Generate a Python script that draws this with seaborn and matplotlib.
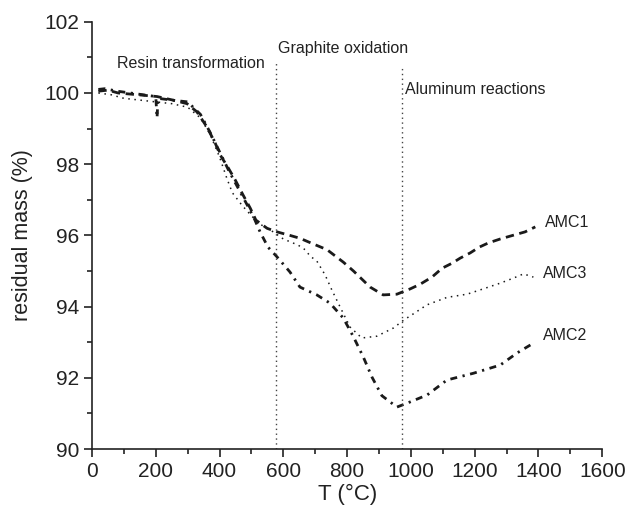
import matplotlib
matplotlib.use("Agg")
import matplotlib.pyplot as plt
import seaborn as sns
import pandas as pd
from matplotlib.ticker import MultipleLocator

# TGA curves
amc1_t = [20, 50, 82, 119, 157, 204, 254, 298, 329, 360, 386, 402, 427, 449, 474, 496,
          514, 549, 580, 621, 652, 694, 737, 788, 820, 872, 913, 956, 998, 1029, 1066,
          1098, 1129, 1154, 1186, 1214, 1243, 1280, 1311, 1358, 1390]
amc1_m = [100.05, 100.08, 100.0, 99.97, 99.94, 99.9, 99.8, 99.7, 99.47, 99.05, 98.6,
          98.26, 97.9, 97.56, 97.13, 96.77, 96.43, 96.2, 96.1, 96.0, 95.92, 95.76, 95.6,
          95.25, 95.0, 94.55, 94.33, 94.35, 94.5, 94.63, 94.83, 95.08, 95.22, 95.36, 95.51,
          95.67, 95.79, 95.9, 95.98, 96.1, 96.24]

amc2_t = [20, 40, 80, 120, 160, 200, 204, 207, 250, 300, 340, 370, 400, 430, 460, 490,
          510, 527, 552, 580, 621, 652, 705, 746, 788, 820, 851, 878, 909, 956, 988, 1051,
          1113, 1196, 1280, 1333, 1385]
amc2_m = [100.1, 100.12, 100.05, 100.0, 99.95, 99.9, 99.3, 99.85, 99.8, 99.75, 99.4, 98.9,
          98.35, 97.8, 97.3, 96.8, 96.45, 96.1, 95.67, 95.4, 94.97, 94.55, 94.33, 94.1,
          93.68, 93.15, 92.58, 92.02, 91.5, 91.18, 91.29, 91.52, 91.94, 92.13, 92.36, 92.7,
          92.98]

amc3_t = [20, 60, 100, 150, 200, 250, 300, 340, 370, 400, 423, 440, 470, 500, 530, 560,
          600, 646, 668, 684, 705, 731, 752, 778, 809, 846, 893, 945, 977, 1008, 1050, 1113,
          1176, 1227, 1280, 1321, 1353, 1384]
amc3_m = [100.0, 99.95, 99.85, 99.8, 99.75, 99.7, 99.6, 99.3, 98.85, 98.2, 97.6, 97.2,
          96.85, 96.55, 96.3, 96.15, 95.9, 95.73, 95.6, 95.42, 95.28, 94.89, 94.47, 93.99,
          93.43, 93.12, 93.17, 93.4, 93.62, 93.8, 94.05, 94.26, 94.35, 94.5, 94.66, 94.8,
          94.92, 94.83]

regions = ["Resin transformation", "Graphite oxidation", "Aluminum reactions"]
region_bounds = [577, 973]

sns.set_style("ticks")
plt.rcParams["font.family"] = ["Liberation Sans", "DejaVu Sans"]

fig = plt.figure(figsize=(6.3, 5.18), dpi=100)
ax = fig.add_axes([0.146, 0.133, 0.81, 0.825])

ink = "#1a1a1a"
txt = "#222222"
series = [
    ("AMC1", amc1_t, amc1_m, 2.0, (3, 2)),
    ("AMC2", amc2_t, amc2_m, 2.0, (2.5, 2, 0.8, 2)),
    ("AMC3", amc3_t, amc3_m, 1.1, (1, 3)),
]
for name, t, m, lw, dash in series:
    df = pd.DataFrame({"T": t, "mass": m})
    sns.lineplot(data=df, x="T", y="mass", ax=ax, color=ink, lw=lw, dashes=False)
    ax.lines[-1].set_dashes(dash)

# region boundaries
ax.plot([region_bounds[0]] * 2, [90, 100.87], color="#444444", lw=1, dashes=(1, 2.5))
ax.plot([region_bounds[1]] * 2, [90, 100.73], color="#444444", lw=1, dashes=(1, 2.5))

ax.text(78, 100.84, regions[0], fontsize=11.5, color=txt, va="center")
ax.text(582, 101.26, regions[1], fontsize=11.5, color=txt, va="center")
ax.text(982, 100.1, regions[2], fontsize=11.5, color=txt, va="center")

ax.text(1421, 96.35, "AMC1", fontsize=11.5, color=txt, va="center")
ax.text(1415, 94.92, "AMC3", fontsize=11.5, color=txt, va="center")
ax.text(1415, 93.2, "AMC2", fontsize=11.5, color=txt, va="center")

ax.set_xlim(0, 1600)
ax.set_ylim(90, 102)
ax.xaxis.set_major_locator(MultipleLocator(200))
ax.xaxis.set_minor_locator(MultipleLocator(100))
ax.yaxis.set_major_locator(MultipleLocator(2))
ax.yaxis.set_minor_locator(MultipleLocator(1))
ax.tick_params(which="major", length=6, width=1.2, labelsize=15, colors=txt, pad=3)
ax.tick_params(which="minor", length=3.5, width=1.2, colors=txt)
ax.set_xlabel("T (°C)", fontsize=16, color=txt, labelpad=2)
ax.set_ylabel("residual mass (%)", fontsize=15.5, color=txt, labelpad=8)
for s in ["left", "bottom"]:
    ax.spines[s].set_linewidth(1.2)
    ax.spines[s].set_color(txt)
sns.despine(ax=ax)

fig.savefig("out.png", dpi=100)
